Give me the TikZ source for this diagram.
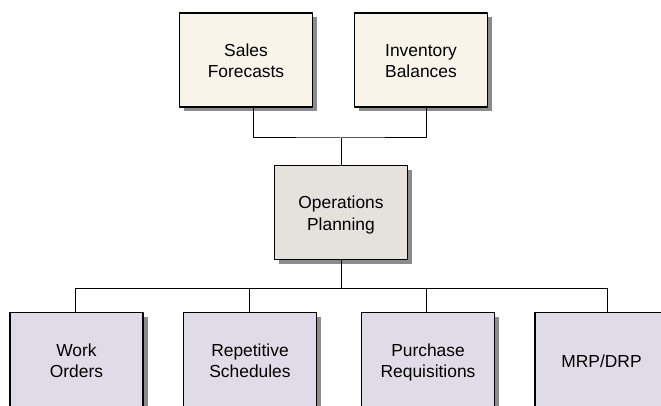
\documentclass[tikz,border=0pt]{standalone}
\usepackage{fontspec}
\setmainfont{Liberation Sans}
\usetikzlibrary{shadows}
\definecolor{inbox}{RGB}{248,244,234}
\definecolor{planbox}{RGB}{229,226,222}
\definecolor{outbox}{RGB}{223,220,231}
\begin{document}
\begin{tikzpicture}[x=1pt,y=-1pt,line join=round,font=\fontsize{17.4}{21}\selectfont,
    box/.style={draw,line width=1.1pt,minimum width=133pt,minimum height=94pt,align=center,inner sep=0pt,
      text height=39pt,text depth=4pt,
      drop shadow={shadow xshift=4.5pt,shadow yshift=-4.5pt,fill=black!45,opacity=1}},
    link/.style={line width=1pt}]
    \useasboundingbox (0,0) rectangle (661,406);
    \node[box,fill=inbox](sales) at (246,60){Sales\\Forecasts};
    \node[box,fill=inbox](stock) at (421,60){Inventory\\Balances};
    \node[box,fill=planbox](ops) at (341,212.5){Operations\\Planning};
    \node[box,fill=outbox](work) at (76.5,359.5){Work\\Orders};
    \node[box,fill=outbox](sched) at (250,359.5){Repetitive\\Schedules};
    \node[box,fill=outbox](req) at (428,359.5){Purchase\\Requisitions};
    \node[box,fill=outbox,text height=15pt,text depth=0pt](mrp) at (601.5,359.5){MRP/DRP};
    \coordinate (topbus) at (341,138);
    \coordinate (lowbus) at (341,288);
    \draw[link] ([xshift=7pt]sales.south) |- (topbus) -| ([xshift=5pt]stock.south);
    \draw[link] (topbus) -- (ops.north);
    \draw[link] (ops.south) -- (lowbus);
    \foreach \n/\d in {work/-1.5,sched/-1,req/-2,mrp/5.5}
      \draw[link] ([xshift=\d pt]\n.north) |- (lowbus);
\end{tikzpicture}
\end{document}
